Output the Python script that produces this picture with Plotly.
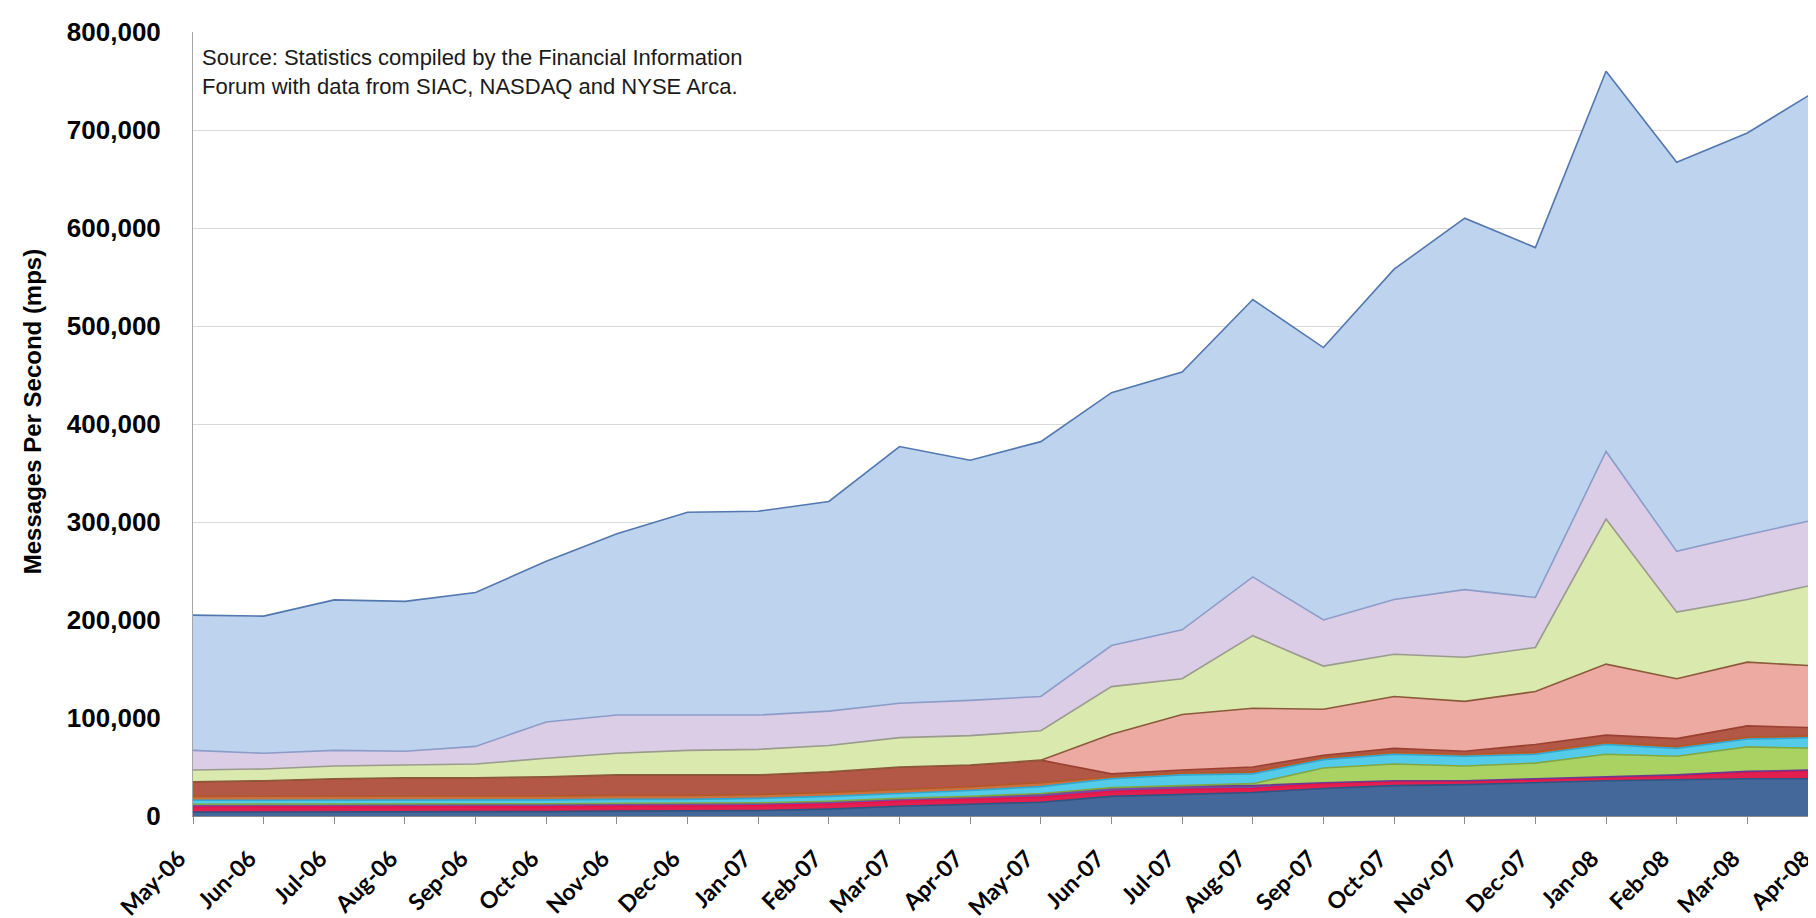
import plotly.graph_objects as go

months = ["May-06", "Jun-06", "Jul-06", "Aug-06", "Sep-06", "Oct-06", "Nov-06", "Dec-06",
          "Jan-07", "Feb-07", "Mar-07", "Apr-07", "May-07", "Jun-07", "Jul-07", "Aug-07",
          "Sep-07", "Oct-07", "Nov-07", "Dec-07", "Jan-08", "Feb-08", "Mar-08", "Apr-08"]

# peak messages per second by feed, stacked bottom to top
navy = [4000, 4000, 4000, 4000, 4000, 4500, 5000, 5000, 5500, 7000, 10000, 12000,
        14000, 20000, 22000, 24000, 28000, 31000, 32000, 34000, 36000, 37000, 38000, 38000]
red = [5000, 5000, 5000, 5000, 5000, 5000, 5000, 5000, 5000, 5000, 5000, 5000,
       5000, 5000, 5000, 4000, 5000, 4000, 3000, 3000, 3000, 4000, 6500, 8000]
purple = [3000, 3000, 3000, 3000, 3000, 3000, 3000, 3000, 3000, 3000, 3000, 3000,
          4000, 4000, 4000, 3000, 1000, 1000, 1000, 1000, 1000, 1000, 1000, 1000]
lime = [0, 0, 0, 0, 0, 0, 0, 0, 0, 0, 0, 0,
        0, 0, 0, 2000, 15000, 17000, 15000, 16000, 23000, 19000, 25000, 22000]
cyan = [4000, 4000, 4000, 4000, 4000, 4000, 4000, 4000, 4500, 5000, 5000, 6000,
        7000, 9000, 11000, 10000, 8500, 10000, 10000, 9000, 10000, 8000, 8000, 11000]
orange = [4000, 4000, 4000, 4000, 4000, 4000, 4000, 4000, 4000, 4000, 4000, 4000,
          4000, 2000, 2000, 2000, 2000, 2000, 2000, 2000, 2000, 2000, 2000, 2000]
brown = [15000, 16000, 18000, 19000, 19000, 19500, 21000, 21000, 20000, 21000, 23000, 22000,
         23000, 3000, 3000, 5000, 2500, 4000, 3000, 8000, 7500, 8000, 11500, 8000]
salmon = [0, 0, 0, 0, 0, 0, 0, 0, 0, 0, 0, 0,
          0, 40500, 56500, 60000, 47000, 53000, 51000, 54000, 72500, 61000, 65000, 63000]
yellow = [12000, 12000, 13000, 13000, 14000, 19000, 22000, 25000, 26000, 27000, 30000, 30000,
          30000, 48500, 36500, 74000, 44000, 43000, 45000, 45000, 148000, 68000, 64000, 84000]
lilac = [20000, 16000, 16000, 14000, 18000, 37000, 39000, 36000, 35000, 35000, 35000, 36000,
         35000, 42000, 50000, 60000, 47000, 56000, 69000, 51000, 69000, 62000, 66000, 66000]
light_blue = [138000, 140000, 153500, 153000, 157000, 164000, 185000, 207000, 208000, 214000,
              262000, 245000, 260000, 258000, 263000, 283000, 278000, 337000, 379000, 357000,
              388000, 397000, 410000, 438000]

layers = [
    ("navy", navy, "#45689A", "#2E5482"),
    ("red", red, "#E2204F", "#E8114A"),
    ("purple", purple, "#7B4A9E", "#6A3A8E"),
    ("lime", lime, "#A9D263", "#7FA844"),
    ("cyan", cyan, "#55CBEA", "#2FA7CF"),
    ("orange", orange, "#C9713F", "#B0582A"),
    ("brown", brown, "#B35746", "#9A4030"),
    ("salmon", salmon, "#ECAAA2", "#8B5A3A"),
    ("yellow", yellow, "#DAE9AE", "#9A9A8E"),
    ("lilac", lilac, "#DCCDE7", "#8C9CC8"),
    ("light_blue", light_blue, "#BDD3EE", "#5377AF"),
]

fig = go.Figure()
for name, vals, fill, line in layers:
    fig.add_trace(go.Scatter(x=months, y=vals, name=name, mode="lines",
                             stackgroup="one", fillcolor=fill,
                             line=dict(color=line, width=1.6)))

fig.update_layout(
    width=1816, height=918,
    margin=dict(l=185, r=6, t=24, b=102),
    paper_bgcolor="white", plot_bgcolor="white",
    showlegend=False,
    font=dict(family="Liberation Sans, Arial, sans-serif", color="black"),
)
fig.update_xaxes(
    range=[0, 23], tickangle=-45, ticks="outside", ticklen=7, tickcolor="#8C8C8C",
    showline=True, linecolor="#8C8C8C", showgrid=False,
    tickfont=dict(family="Lato, Open Sans, sans-serif", size=23, weight="bold"),
    ticklabelstandoff=12, ticklabelshift=-14,
)
fig.update_yaxes(
    range=[0, 800000], dtick=100000, tickformat=",",
    showline=True, linecolor="#A6A6A6", showgrid=True, gridcolor="#D9D9D9",
    tickfont=dict(family="Liberation Sans, Arial, sans-serif", size=26, weight="bold"),
    ticklabelstandoff=26, zeroline=False,
)

fig.add_annotation(
    text="<b>Messages Per Second (mps)</b>", textangle=-90,
    xref="paper", yref="paper", x=(24 - 185) / 1625, y=0.515,
    xanchor="center", yanchor="middle", showarrow=False,
    font=dict(size=24, family="Liberation Sans, Arial, sans-serif"),
)
fig.add_annotation(
    text="Source: Statistics compiled by the Financial Information<br>"
         "Forum with data from SIAC, NASDAQ and NYSE Arca.",
    xref="paper", yref="paper", x=0.004, y=0.986,
    xanchor="left", yanchor="top", align="left", showarrow=False,
    font=dict(size=22, family="Liberation Sans, Arial, sans-serif", color="#1A1A1A"),
)

fig.write_html("out.html")
